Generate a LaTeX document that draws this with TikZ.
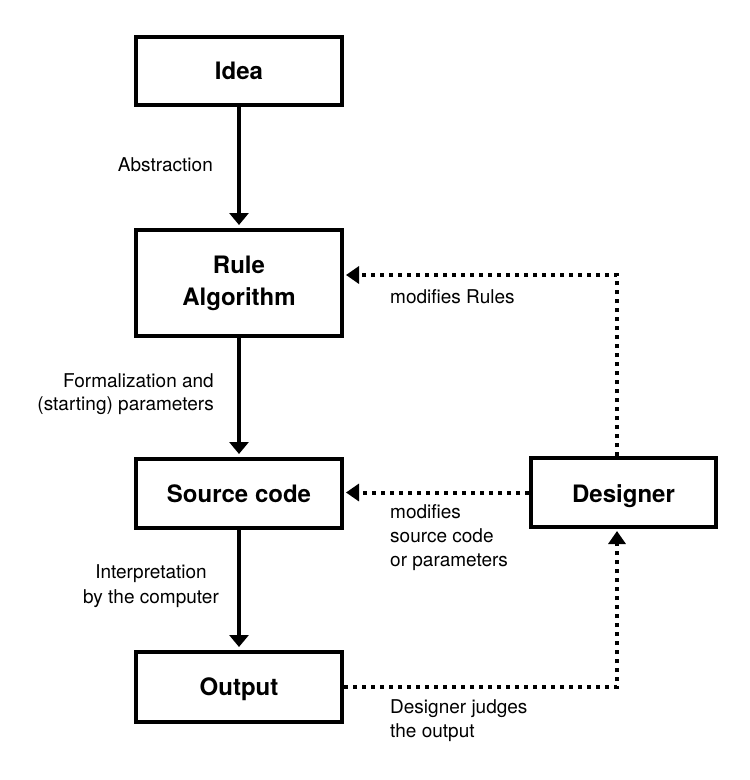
\documentclass[tikz,border=0pt]{standalone}
\usepackage{fontspec}
\setmainfont{TeX Gyre Heros}
\usetikzlibrary{arrows.meta,calc}
\begin{document}
\begin{tikzpicture}[x=1pt,y=-1pt,
  box/.style={draw, line width=4pt, minimum width=206pt, inner sep=0pt,
    font=\fontsize{24}{32}\selectfont\bfseries},
  lbl/.style={font=\fontsize{19}{24}\selectfont, inner sep=0pt},
  solidarrow/.style={line width=4.5pt, -{Triangle[length=12pt,width=19pt]}, shorten >=3pt},
  dotline/.style={line width=4pt, dash pattern=on 4pt off 5pt,
    -{Triangle[length=13pt,width=17pt]}, shorten >=2pt}]
\useasboundingbox (0,0) rectangle (750,780);

\node[box, minimum height=68pt, text depth=0pt] (idea) at (239,71) {Idea};
\node[box, minimum height=106pt, align=center] (rule) at (239,283) {Rule\\Algorithm};
\node[box, minimum height=69pt, text depth=0pt] (src) at (239,493.5) {Source code};
\node[box, minimum height=70pt, text depth=0pt] (out) at (239,687) {Output};
\node[box, minimum width=185pt, minimum height=69pt, text depth=0pt] (des) at (623.5,492.5) {\raisebox{-2pt}{Designer}};

\draw[solidarrow] (idea) -- (rule);
\draw[solidarrow] (rule) -- (src);
\draw[solidarrow] (src) -- (out);

\coordinate (c1) at (617,275);
\draw[dotline] (des.north -| c1) |- (rule.east |- c1);
\draw[dotline] (des.west) -- (src.east |- des.west);
\draw[dotline] (out.east) -| (des.south -| c1);

\node[lbl, anchor=base east] (l1) at (213,171) {Abstraction};
\node[lbl, anchor=base east] (l2a) at (214,387) {Formalization and};
\node[lbl, anchor=base east] (l2b) at (214,410) {(starting) parameters};
\node[lbl, anchor=base] (l3a) at (151,578) {Interpretation};
\node[lbl, anchor=base] (l3b) at (151,603) {by the computer};
\node[lbl, anchor=base west] (l4) at (390,303) {modifies Rules};
\node[lbl, anchor=base west] (l5a) at (390,518) {modifies};
\node[lbl, anchor=base west] (l5b) at (390,542) {source code};
\node[lbl, anchor=base west] (l5c) at (390,566) {or parameters};
\node[lbl, anchor=base west] (l6a) at (390,713) {Designer judges};
\node[lbl, anchor=base west] (l6b) at (390,737) {the output};
\end{tikzpicture}
\end{document}
